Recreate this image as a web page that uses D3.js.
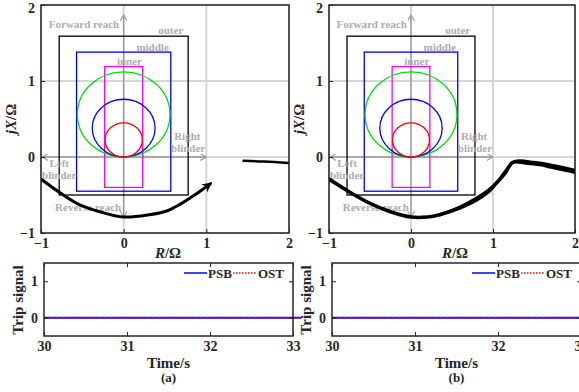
<!DOCTYPE html>
<html>
<head>
<meta charset="utf-8">
<script src="https://cdn.jsdelivr.net/npm/d3@7"></script>
<style>
  body { margin: 0; background: #fff; }
  svg { display: block; font-family: "Liberation Serif", "Times New Roman", serif; font-weight: bold; }
</style>
</head>
<body>
<svg width="579" height="392"></svg>
<script>
// impedance plane ticks
const rTicks = [-1, 0, 1, 2];
const xTicks = [-1, 0, 1, 2];
// time plot ticks
const tTicks = [30, 31, 32, 33];
const sigTicks = [0, 1];

// zone rectangles [rMin, rMax], [xMin, xMax]
const zoneNames = ['outer', 'middle', 'inner'];
const zoneColors = ['#000000', '#0000ff', '#ff00ff'];
const zoneR = [[-0.78, 0.78], [-0.57, 0.57], [-0.23, 0.23]];
const zoneX = [[-0.5, 1.59], [-0.45, 1.38], [-0.4, 1.19]];

// mho circles: diameter along X axis through origin
const mhoDiam = [1.12, 0.76, 0.45];
const mhoColors = ['#00e000', '#0000ff', '#ff0000'];

// grey annotations: text, R, X
const noteText = ['Forward reach', 'outer', 'middle', 'inner', 'Right', 'blinder', 'Left', 'blinder', 'Reverse reach'];
const noteR = [-0.48, 0.57, 0.35, 0.07, 0.77, 0.78, -0.78, -0.78, -0.43];
const noteX = [1.70, 1.62, 1.39, 1.21, 0.22, 0.07, -0.13, -0.29, -0.71];

// trajectory (a): swing arc + post-fault segment
const trajA_R = [-1.0, -0.77, -0.53, -0.29, 0.0, 0.31, 0.52, 0.67, 0.83, 0.95, 1.05];
const trajA_X = [-0.29, -0.47, -0.63, -0.72, -0.79, -0.76, -0.71, -0.63, -0.52, -0.43, -0.35];
const segA_R = [1.45, 1.7, 2.0];
const segA_X = [-0.05, -0.06, -0.08];

// trajectory (b): several overlapping swings
const trajB_R = [-1.0, -0.75, -0.5, -0.25, 0.0, 0.2, 0.35, 0.6, 0.76, 0.93, 1.02, 1.15, 1.24, 1.4, 1.57, 1.7, 1.82, 2.0];
const trajB_X = [-0.29, -0.46, -0.61, -0.72, -0.79, -0.79, -0.76, -0.67, -0.59, -0.47, -0.37, -0.21, -0.07, -0.08, -0.10, -0.13, -0.16, -0.20];
const trajB2_R = [0.35, 0.6, 0.8, 0.95, 1.05, 1.15, 1.26, 1.5, 1.75, 2.0];
const trajB2_X = [-0.76, -0.655, -0.54, -0.43, -0.33, -0.19, -0.06, -0.07, -0.115, -0.175];

// trip signals (both zero)
const timeT = [30, 33.1];
const psb = [0, 0];
const ost = [0, 0];

const svg = d3.select('svg');
const defs = svg.append('defs');

defs.append('marker').attr('id', 'greyhead')
  .attr('viewBox', '0 0 8 8').attr('refX', 7).attr('refY', 4)
  .attr('markerWidth', 7).attr('markerHeight', 7).attr('markerUnits', 'userSpaceOnUse')
  .attr('orient', 'auto-start-reverse')
  .append('path').attr('d', 'M0,0 L7,4 L0,8').attr('fill', 'none').attr('stroke', '#999').attr('stroke-width', 1.2);

defs.append('marker').attr('id', 'blackhead')
  .attr('viewBox', '0 0 10 10').attr('refX', 8).attr('refY', 5)
  .attr('markerWidth', 10).attr('markerHeight', 10).attr('markerUnits', 'userSpaceOnUse')
  .attr('orient', 'auto')
  .append('path').attr('d', 'M0,0 L10,5 L0,10 L3,5 Z').attr('fill', '#000');

function zip(a, b) { return a.map((v, i) => [v, b[i]]); }

function impedancePanel(id, left, right, lines) {
  const x = d3.scaleLinear().domain([-1, 2]).range([left, right]);
  const y = d3.scaleLinear().domain([-1, 2]).range([233, 5]);
  const g = svg.append('g');

  defs.append('clipPath').attr('id', 'clip' + id)
    .append('rect').attr('x', left).attr('y', 5).attr('width', right - left).attr('height', 228);

  // grid
  g.append('g').selectAll('line').data(rTicks).join('line')
    .attr('x1', d => x(d)).attr('x2', d => x(d)).attr('y1', y(2)).attr('y2', y(-1))
    .attr('stroke', '#d6d6d6').attr('stroke-width', 2);
  g.append('g').selectAll('line').data(xTicks).join('line')
    .attr('y1', d => y(d)).attr('y2', d => y(d)).attr('x1', x(-1)).attr('x2', x(2))
    .attr('stroke', '#d6d6d6').attr('stroke-width', 2);

  // axis arrows
  g.append('line').attr('x1', x(-1) + 1).attr('x2', x(1)).attr('y1', y(0)).attr('y2', y(0))
    .attr('stroke', '#999').attr('stroke-width', 1.3)
    .attr('marker-start', 'url(#greyhead)').attr('marker-end', 'url(#greyhead)');
  g.append('line').attr('x1', x(0)).attr('x2', x(0)).attr('y1', y(-0.79)).attr('y2', y(1.87))
    .attr('stroke', '#999').attr('stroke-width', 1.3)
    .attr('marker-start', 'url(#greyhead)').attr('marker-end', 'url(#greyhead)');

  // zone rectangles
  g.append('g').selectAll('rect').data(zoneNames).join('rect')
    .attr('x', (d, i) => x(zoneR[i][0])).attr('width', (d, i) => x(zoneR[i][1]) - x(zoneR[i][0]))
    .attr('y', (d, i) => y(zoneX[i][1])).attr('height', (d, i) => y(zoneX[i][0]) - y(zoneX[i][1]))
    .attr('fill', 'none').attr('stroke', (d, i) => zoneColors[i]).attr('stroke-width', 1.3);

  // mho circles
  g.append('g').selectAll('ellipse').data(mhoDiam).join('ellipse')
    .attr('cx', x(0)).attr('cy', d => y(d / 2))
    .attr('rx', d => x(d / 2) - x(0)).attr('ry', d => y(0) - y(d / 2))
    .attr('fill', 'none').attr('stroke', (d, i) => mhoColors[i]).attr('stroke-width', 1.3);

  // annotations
  g.append('g').selectAll('text').data(noteText).join('text')
    .attr('x', (d, i) => x(noteR[i])).attr('y', (d, i) => y(noteX[i]))
    .attr('text-anchor', 'middle').attr('font-size', 11).attr('fill', '#adadad')
    .text(d => d);

  // trajectories
  const line = d3.line().x(d => x(d[0])).y(d => y(d[1])).curve(d3.curveCatmullRom);
  const tg = g.append('g').attr('clip-path', `url(#clip${id})`);
  lines.forEach(l => {
    const p = tg.append('path').attr('d', line(l.pts)).attr('fill', 'none')
      .attr('stroke', '#000').attr('stroke-width', l.w).attr('stroke-linecap', 'round');
    if (l.arrow) p.attr('marker-end', 'url(#blackhead)');
  });

  // frame
  g.append('rect').attr('x', left).attr('y', 5).attr('width', right - left).attr('height', 228)
    .attr('fill', 'none').attr('stroke', '#262626').attr('stroke-width', 1.5);

  // ticks + labels
  const ax = g.append('g').attr('transform', `translate(0,${y(-1)})`)
    .call(d3.axisBottom(x).tickValues(rTicks).tickSizeInner(-4).tickSizeOuter(0).tickPadding(7).tickFormat(d3.format('d')));
  const ay = g.append('g').attr('transform', `translate(${left},0)`)
    .call(d3.axisLeft(y).tickValues(xTicks).tickSizeInner(-4).tickSizeOuter(0).tickPadding(6).tickFormat(d3.format('d')));
  [ax, ay].forEach(a => {
    a.select('.domain').remove();
    a.selectAll('line').attr('stroke', '#262626');
    a.selectAll('text').attr('font-size', 14).attr('font-family', 'Liberation Serif').attr('font-weight', 'bold').attr('fill', '#262626');
  });
  ax.selectAll('text').attr('dy', '0.55em');
  ay.selectAll('text').filter(d => d === 2).attr('dy', '0.5em');

  // axis titles
  const mid = (left + right) / 2;
  const xl = g.append('text').attr('x', mid + 3).attr('y', 258).attr('text-anchor', 'middle')
    .attr('font-size', 15).attr('fill', '#262626');
  xl.append('tspan').attr('font-style', 'italic').text('R');
  xl.append('tspan').text('/Ω');
  const yl = g.append('text').attr('transform', `translate(${left - 25},119) rotate(-90)`)
    .attr('text-anchor', 'middle').attr('font-size', 15).attr('fill', '#262626');
  yl.append('tspan').attr('font-style', 'italic').text('jX');
  yl.append('tspan').text('/Ω');
}

function tripPanel(left, right, label) {
  const x = d3.scaleLinear().domain([30, 33]).range([left, right]);
  const y = d3.scaleLinear().domain([-0.5, 1.5]).range([336, 263]);
  const g = svg.append('g');
  const line = d3.line().x(d => x(d[0])).y(d => y(d[1]));

  g.append('path').attr('d', line(zip(timeT, psb))).attr('stroke', '#0000ff').attr('stroke-width', 2).attr('fill', 'none');
  g.append('path').attr('d', line(zip(timeT, ost))).attr('stroke', '#ff0000').attr('stroke-width', 1.3)
    .attr('stroke-dasharray', '1.5,1.5').attr('fill', 'none');

  g.append('rect').attr('x', left).attr('y', 263).attr('width', right - left).attr('height', 73)
    .attr('fill', 'none').attr('stroke', '#262626').attr('stroke-width', 1.5);

  const ax = g.append('g').attr('transform', `translate(0,336)`)
    .call(d3.axisBottom(x).tickValues(tTicks).tickSizeInner(-4).tickSizeOuter(0).tickPadding(7).tickFormat(d3.format('d')));
  const axTop = g.append('g').attr('transform', `translate(0,263)`)
    .call(d3.axisTop(x).tickValues(tTicks).tickSizeInner(-4).tickSizeOuter(0).tickFormat(''));
  const ay = g.append('g').attr('transform', `translate(${left},0)`)
    .call(d3.axisLeft(y).tickValues(sigTicks).tickSizeInner(-4).tickSizeOuter(0).tickPadding(6).tickFormat(d3.format('d')));
  const ayR = g.append('g').attr('transform', `translate(${right},0)`)
    .call(d3.axisRight(y).tickValues(sigTicks).tickSizeInner(-4).tickSizeOuter(0).tickFormat(''));
  [ax, axTop, ay, ayR].forEach(a => {
    a.select('.domain').remove();
    a.selectAll('line').attr('stroke', '#262626');
    a.selectAll('text').attr('font-size', 14).attr('font-family', 'Liberation Serif').attr('font-weight', 'bold').attr('fill', '#262626');
  });
  ax.selectAll('text').attr('dy', '0.55em');

  // legend
  const lx = right - 109, ly = 273;
  g.append('line').attr('x1', lx).attr('x2', lx + 23).attr('y1', ly).attr('y2', ly).attr('stroke', '#0000ff').attr('stroke-width', 1.5);
  g.append('text').attr('x', lx + 24).attr('y', ly + 5).attr('font-size', 13).attr('fill', '#262626').text('PSB');
  g.append('line').attr('x1', lx + 49).attr('x2', lx + 73).attr('y1', ly).attr('y2', ly).attr('stroke', '#ff0000')
    .attr('stroke-width', 1.3).attr('stroke-dasharray', '1.5,1.5');
  g.append('text').attr('x', lx + 74).attr('y', ly + 5).attr('font-size', 13).attr('fill', '#262626').text('OST');

  const mid = (left + right) / 2;
  g.append('text').attr('transform', `translate(${left - 21},300) rotate(-90)`).attr('text-anchor', 'middle')
    .attr('font-size', 15).attr('fill', '#262626').text('Trip signal');
  g.append('text').attr('x', mid).attr('y', 368).attr('text-anchor', 'middle').attr('font-size', 15)
    .attr('fill', '#262626').text('Time/s');
  g.append('text').attr('x', mid).attr('y', 382).attr('text-anchor', 'middle').attr('font-size', 13)
    .attr('fill', '#262626').text(label);
}

impedancePanel('a', 41, 289, [
  { pts: zip(trajA_R, trajA_X), w: 3, arrow: true },
  { pts: zip(segA_R, segA_X), w: 2.5 }
]);
impedancePanel('b', 329, 575, [
  { pts: zip(trajB_R, trajB_X), w: 3.5 },
  { pts: zip(trajB2_R, trajB2_X), w: 3 }
]);
tripPanel(44, 293, '(a)');
tripPanel(332, 581, '(b)');
</script>
</body>
</html>
